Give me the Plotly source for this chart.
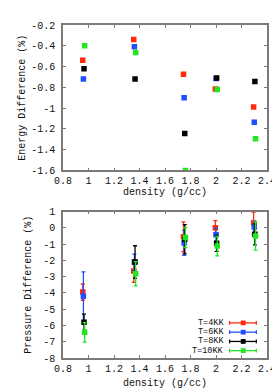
import plotly.graph_objects as go
from plotly.subplots import make_subplots

# ---------------- data ----------------
series_names = ["T=4KK", "T=6KK", "T=8KK", "T=10KK"]
series_colors = ["#ff2a0a", "#1f4fff", "#000000", "#22e622"]

dens_t4 = [0.955, 1.355, 1.745, 1.995, 2.295]
dens_t6 = [0.960, 1.360, 1.750, 2.000, 2.300]
dens_t8 = [0.965, 1.365, 1.755, 2.005, 2.305]
dens_t10 = [0.970, 1.370, 1.760, 2.010, 2.310]

energy_t4 = [-0.54, -0.34, -0.675, -0.815, -0.99]
energy_t6 = [-0.72, -0.41, -0.90, -0.715, -1.135]
energy_t8 = [-0.62, -0.72, -1.245, -0.71, -0.745]
energy_t10 = [-0.40, -0.465, -1.60, -0.82, -1.295]

press_t4 = [-3.95, -2.65, -0.55, 0.0, 0.30]
press_t6 = [-4.20, -2.12, -0.92, -0.42, 0.05]
press_t8 = [-5.80, -2.10, -0.70, -0.95, -0.40]
press_t10 = [-6.42, -2.82, -0.60, -1.12, -0.50]

perr_t4 = [0.50, 0.70, 0.92, 0.45, 0.67]
perr_t6 = [1.50, 0.50, 0.77, 0.40, 0.35]
perr_t8 = [0.50, 1.00, 0.90, 0.50, 0.65]
perr_t10 = [0.60, 0.75, 0.62, 0.60, 0.87]

x_ticks = [0.8, 1.0, 1.2, 1.4, 1.6, 1.8, 2.0, 2.2, 2.4]
x_ticklabels = ["0.8", "1", "1.2", "1.4", "1.6", "1.8", "2", "2.2", "2.4"]
e_ticks = [-0.2, -0.4, -0.6, -0.8, -1.0, -1.2, -1.4, -1.6]
e_ticklabels = ["-0.2", "-0.4", "-0.6", "-0.8", "-1", "-1.2", "-1.4", "-1.6"]
p_ticks = [1, 0, -1, -2, -3, -4, -5, -6, -7, -8]
p_ticklabels = ["1", "0", "-1", "-2", "-3", "-4", "-5", "-6", "-7", "-8"]

dens = [dens_t4, dens_t6, dens_t8, dens_t10]
energy = [energy_t4, energy_t6, energy_t8, energy_t10]
press = [press_t4, press_t6, press_t8, press_t10]
perr = [perr_t4, perr_t6, perr_t8, perr_t10]

# ---------------- figure ----------------
W, H = 280, 391
ML, MR, MT, MB = 52, 18, 12, 31
fig = make_subplots(rows=2, cols=1)

for i in range(4):
    fig.add_trace(go.Scatter(
        x=dens[i], y=energy[i], mode="markers", name=series_names[i],
        marker=dict(symbol="square", size=5.5, color=series_colors[i]),
        showlegend=False), row=1, col=1)

for i in range(4):
    fig.add_trace(go.Scatter(
        x=dens[i], y=press[i], mode="markers", name=series_names[i],
        marker=dict(symbol="square", size=5.5, color=series_colors[i]),
        error_y=dict(type="data", array=perr[i], visible=True,
                     color=series_colors[i], thickness=1.3, width=2),
        showlegend=False), row=2, col=1)

font = dict(family="Liberation Mono", size=10, color="#111111")
axis_common = dict(showline=True, mirror="ticks", linecolor="#7a7a7a", linewidth=1.5,
                   ticks="inside", ticklen=3, tickwidth=1, tickcolor="#7a7a7a",
                   showgrid=False, zeroline=False, tickfont=font,
                   range=[0.8, 2.4])

fig.update_xaxes(tickvals=x_ticks, ticktext=x_ticklabels,
                 ticklabeloverflow="allow",
                 title=dict(text="density (g/cc)", font=font, standoff=1),
                 row=1, col=1, **axis_common)
fig.update_xaxes(tickvals=x_ticks, ticktext=x_ticklabels,
                 ticklabeloverflow="allow",
                 title=dict(text="density (g/cc)", font=font, standoff=5),
                 row=2, col=1, **axis_common)
axis_y = {k: v for k, v in axis_common.items() if k != "range"}
fig.update_yaxes(range=[-1.6, -0.2], tickvals=e_ticks, ticktext=e_ticklabels,
                 ticklabelstandoff=4,
                 title=dict(text="Energy Difference (%)", font=font, standoff=4),
                 row=1, col=1, **axis_y)
fig.update_yaxes(range=[-8, 1], tickvals=p_ticks, ticktext=p_ticklabels,
                 ticklabelstandoff=4,
                 title=dict(text="Pressure Difference (%)", font=font, standoff=10),
                 row=2, col=1, **axis_y)

plot_h = H - MT - MB
fig.update_layout(
    xaxis=dict(domain=[0, 1]),
    xaxis2=dict(domain=[0, 1]),
    yaxis=dict(domain=[1 - (164 - MT) / plot_h, 1]),
    yaxis2=dict(domain=[0, 1 - (207 - MT) / plot_h]),
    width=W, height=H,
    margin=dict(l=ML, r=MR, t=MT, b=MB),
    paper_bgcolor="white", plot_bgcolor="white",
    showlegend=False,
)

# ---------------- manual gnuplot-style legend ----------------
plot_w = W - ML - MR
def px_x(p):
    return (p - ML) / plot_w
def px_y(p):
    return (H - MB - p) / plot_h

legend_font = dict(family="Liberation Mono", size=8.5, color="#111111")
legend_rows = [323.3, 333.0, 342.7, 352.3]
for i, name in enumerate(series_names):
    yy = px_y(legend_rows[i])
    fig.add_annotation(x=px_x(219), y=yy, xref="paper", yref="paper",
                       text=name, showarrow=False, xanchor="right", yanchor="middle",
                       font=legend_font, borderpad=0)
    c = series_colors[i]
    fig.add_shape(type="line", xref="paper", yref="paper",
                  x0=px_x(223.5), x1=px_x(251), y0=yy, y1=yy,
                  line=dict(color=c, width=1.3))
    for xe in (223.5, 251):
        fig.add_shape(type="line", xref="paper", yref="paper",
                      x0=px_x(xe), x1=px_x(xe), y0=yy - 2 / plot_h, y1=yy + 2 / plot_h,
                      line=dict(color=c, width=1.3))
    fig.add_shape(type="rect", xref="paper", yref="paper",
                  x0=px_x(235), x1=px_x(240), y0=yy - 2.5 / plot_h, y1=yy + 2.5 / plot_h,
                  line=dict(width=0), fillcolor=c)

fig.write_html("out.html")
